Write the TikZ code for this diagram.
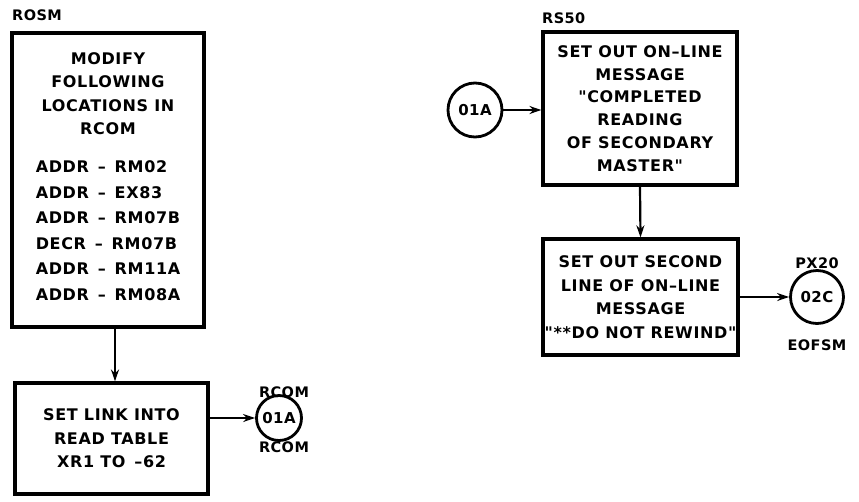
\documentclass[tikz,border=0pt]{standalone}
\usepackage{fontspec}
\newfontfamily\dv{DejaVu Sans}[LetterSpace=4]
\newfontfamily\dvl{DejaVu Sans}[LetterSpace=3]
\usetikzlibrary{arrows.meta,calc}
\begin{document}
\begin{tikzpicture}[x=1pt,y=-1pt,
  box/.style={draw,line width=3.2pt,inner sep=0pt,align=center,
    font=\dv\bfseries\fontsize{16}{23.5}\selectfont},
  conn/.style={draw,circle,line width=2.8pt,inner sep=0pt,
    font=\dvl\bfseries\fontsize{15}{15}\selectfont},
  lbl/.style={font=\dvl\bfseries\fontsize{14.5}{15}\selectfont,inner sep=0pt},
  arr/.style={line width=2.2pt,-{Stealth[length=12pt,width=8pt]}}]
\useasboundingbox (0,0) rectangle (859,501);
% left column
\node[lbl,anchor=west] (rosm) at (12,15) {ROSM};
\node[box,minimum width=192pt,minimum height=294pt] (b1) at (108,180)
  {MODIFY\\FOLLOWING\\LOCATIONS IN\\RCOM\\[19pt]
   \fontsize{16}{25.5}\selectfont
   \begin{tabular}{@{}l@{}}
   ADDR \,–\, RM02\\ADDR \,–\, EX83\\ADDR \,–\, RM07B\\DECR \,–\, RM07B\\ADDR \,–\, RM11A\\ADDR \,–\, RM08A
   \end{tabular}};
\node[box,minimum width=193pt,minimum height=111pt] (b2) at (111.5,438.5)
  {SET LINK INTO\\READ TABLE\\XR1 TO \,–62};
\coordinate (ax) at (115,0);
\draw[arr] (b1.south -| ax) -- (b2.north -| ax);
\node[conn,minimum size=45pt] (c2) at (279,418) {01A};
\node[lbl] (rc1) at (284,392) {RCOM};
\node[lbl] (rc2) at (284,447) {RCOM};
\draw[arr] (b2.east |- c2) -- (c2);
% right column
\node[lbl,anchor=west] (rs50) at (542,18) {RS50};
\node[box,minimum width=194pt,minimum height=153pt,
  font=\dv\bfseries\fontsize{16}{22.7}\selectfont] (b3) at (640,108.5)
  {SET OUT ON–LINE\\MESSAGE\\"COMPLETED\\READING\\OF SECONDARY\\MASTER"};
\node[conn,minimum size=54pt] (c1) at (475,110) {01A};
\draw[arr] (c1) -- (c1 -| b3.west);
\node[box,minimum width=195pt,minimum height=116pt] (b4) at (640.5,297)
  {SET OUT SECOND\\LINE OF ON–LINE\\MESSAGE\\"**DO NOT REWIND"};
\draw[arr] (b3.south) -- (b4.north);
\node[conn,minimum size=53pt] (c3) at (817,297) {02C};
\node[lbl] (px20) at (817,263) {PX20};
\node[lbl] (eofsm) at (817,345) {EOFSM};
\draw[arr] (b4) -- (c3);
\end{tikzpicture}
\end{document}
